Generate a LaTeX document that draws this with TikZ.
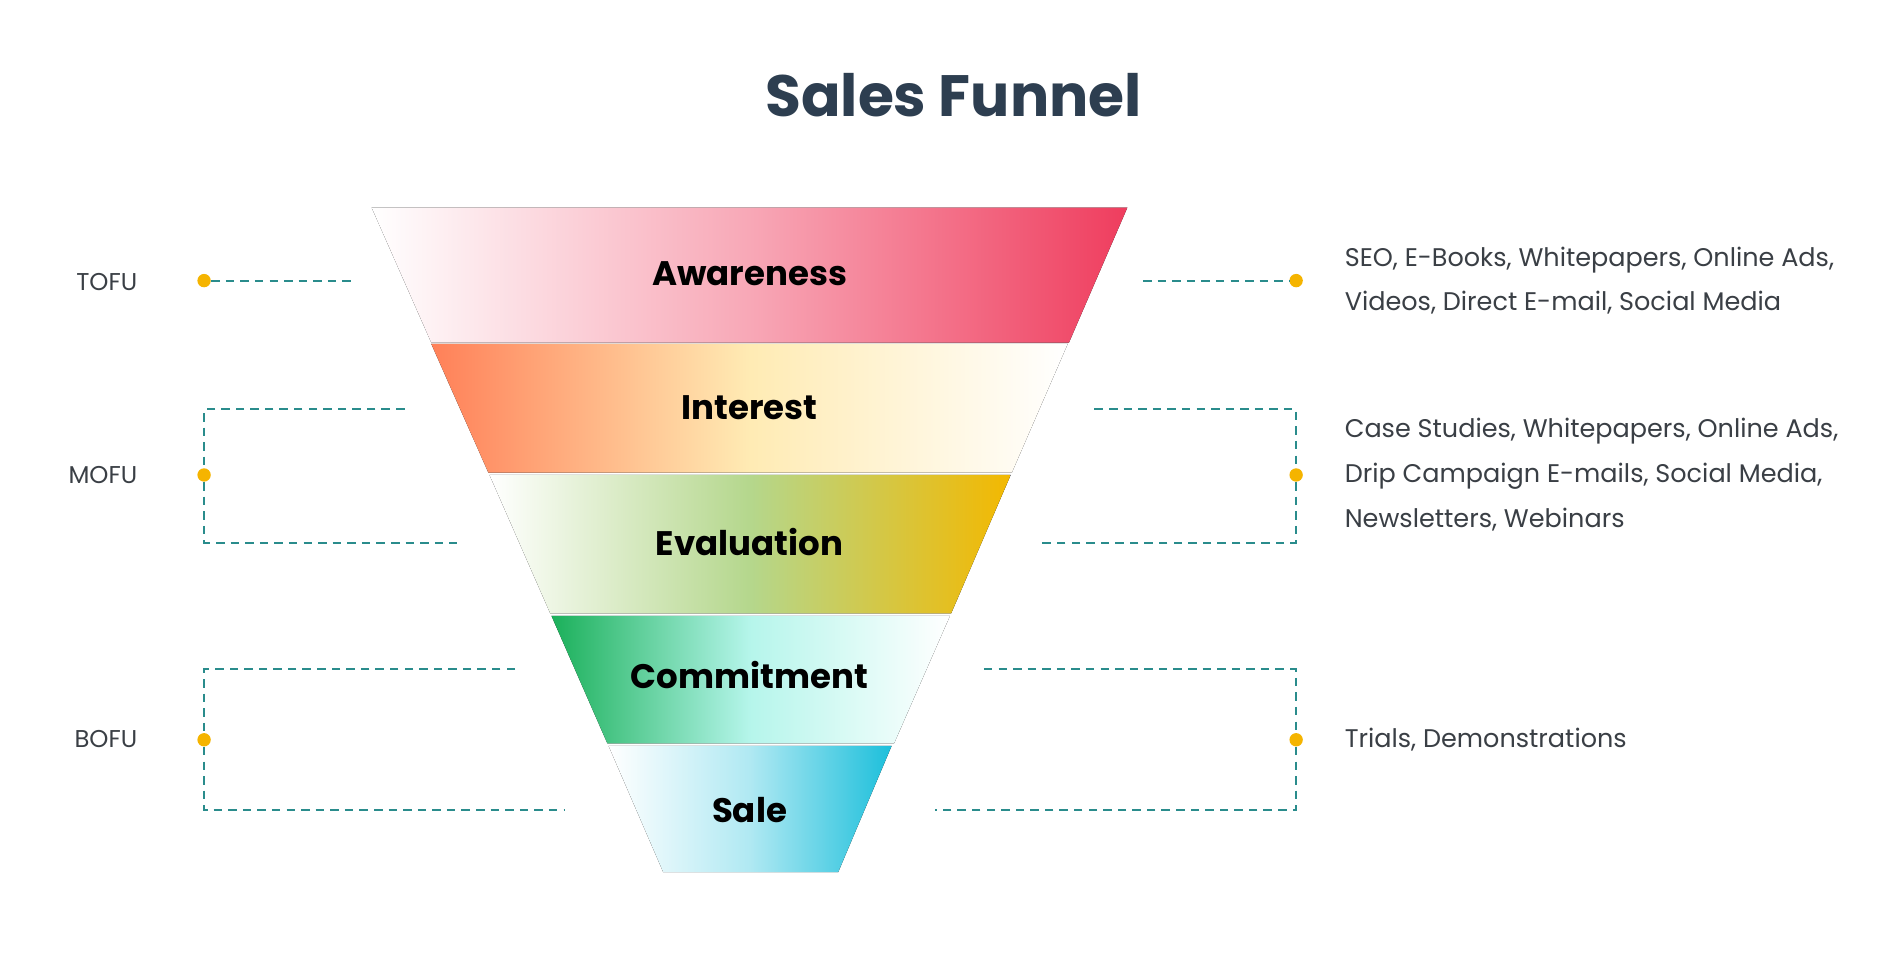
\documentclass[tikz,border=0pt]{standalone}
\usepackage{fontspec}
\setmainfont{Poppins}
\definecolor{teal1}{HTML}{2A8C8C}
\definecolor{dotc}{HTML}{F5B400}
\definecolor{titlec}{HTML}{2D3E50}
\definecolor{txt}{HTML}{3A3F45}
\definecolor{redc}{HTML}{EF3D5E}
\definecolor{orc}{HTML}{FF8058}
\definecolor{yelc}{HTML}{F3B800}
\definecolor{grc}{HTML}{1BB05A}
\definecolor{cyc}{HTML}{1CBFDB}
\begin{document}
\begin{tikzpicture}[x=0.5pt,y=-0.5pt,
  dot/.style={circle,fill=dotc,inner sep=0pt,minimum size=5.5pt},
  conn/.style={teal1,dashed,line width=0.8pt,dash pattern=on 3.5pt off 2.5pt},
  stage/.style={font=\fontsize{14}{16}\selectfont\bfseries,text=black},
  side/.style={font=\fontsize{10}{12}\selectfont,text=txt},
  info/.style={font=\fontsize{10.5}{18.5}\selectfont,text=txt,align=left,anchor=west}]
\useasboundingbox[fill=white] (0,0) rectangle (1560,797);
\node[font=\fontsize{24}{28}\selectfont\bfseries,text=titlec] (title) at (785,78) {Sales Funnel};
% funnel bands
\fill[left color=white,right color=redc,middle color=redc!45] (306,171) -- (928,171) -- (880,282) -- (355,282) -- cycle;
\fill[left color=orc,right color=white,middle color=orc!45!yellow!35] (355,283) -- (879,283) -- (833,389) -- (402,389) -- cycle;
\fill[left color=white,right color=yelc,middle color=green!30!olive!45] (403,391) -- (832,391) -- (783,505) -- (453,505) -- cycle;
\fill[left color=grc,right color=white,middle color=grc!40!cyan!30] (454,507) -- (782,507) -- (736,612) -- (500,612) -- cycle;
\fill[left color=white,right color=cyc,middle color=cyc!35] (501,614) -- (734,614) -- (690,718) -- (546,718) -- cycle;
\node[stage] (aw) at (617,225) {Awareness};
\node[stage] (in) at (617,336) {Interest};
\node[stage] (ev) at (617,446) {Evaluation};
\node[stage] (co) at (617,556) {Commitment};
\node[stage] (sa) at (617,667) {Sale};
% left labels and dots
\node[side,anchor=east] (tofu) at (120,232) {TOFU};
\node[side,anchor=east] (mofu) at (120,391) {MOFU};
\node[side,anchor=east] (bofu) at (120,608) {BOFU};
\node[dot] (lt) at (168,231) {};
\node[dot] (lm) at (168,391) {};
\node[dot] (lb) at (168,609) {};
\node[dot] (rt) at (1067,231) {};
\node[dot] (rm) at (1067,391) {};
\node[dot] (rb) at (1067,609) {};
\coordinate (lte) at (293,231);
\coordinate (rts) at (941,231);
\draw[conn] (lt) -- (lte);
\draw[conn] (rts) -- (rt);
\draw[conn] (333,337) -- (168,337) -- (lm);
\draw[conn] (lm) -- (168,447) -- (376,447);
\draw[conn] (901,337) -- (1067,337) -- (rm);
\draw[conn] (rm) -- (1067,447) -- (858,447);
\draw[conn] (424,551) -- (168,551) -- (lb);
\draw[conn] (lb) -- (168,667) -- (465,667);
\draw[conn] (810,551) -- (1067,551) -- (rb);
\draw[conn] (rb) -- (1067,667) -- (770,667);
% right texts
\node[info] (t1) at (1100,231) {SEO, E-Books, Whitepapers, Online Ads,\\Videos, Direct E-mail, Social Media};
\node[info] (t2) at (1100,391) {Case Studies, Whitepapers, Online Ads,\\Drip Campaign E-mails, Social Media,\\Newsletters, Webinars};
\node[info] (t3) at (1100,609) {Trials, Demonstrations};
\end{tikzpicture}
\end{document}
